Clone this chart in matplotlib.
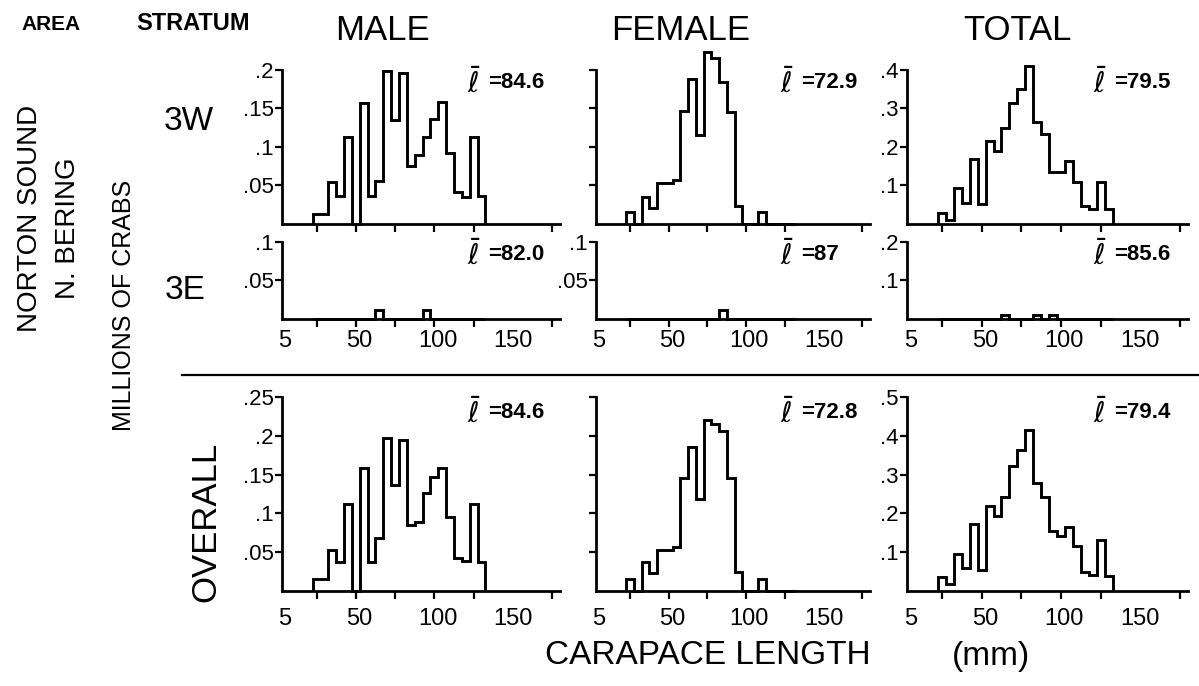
import numpy as np
import matplotlib
matplotlib.use("Agg")
import matplotlib.pyplot as plt
from matplotlib.ticker import FixedLocator, NullFormatter

plt.rcParams['font.family'] = ['Liberation Sans', 'DejaVu Sans']

# ---------------- data (millions of crabs per 5 mm carapace-length bin) ----------------
bin_centers = [25, 30, 35, 40, 45, 50, 55, 60, 65, 70, 75, 80, 85, 90, 95, 100, 105, 110, 115, 120, 125, 130]

male_3w = [0.0135, 0.0135, 0.055, 0.036, 0.1135, 0.0, 0.157, 0.036, 0.056, 0.199, 0.135, 0.196,
           0.075, 0.0895, 0.1135, 0.136, 0.158, 0.092, 0.041, 0.035, 0.1135, 0.036]
female_3w = [0.015, 0.0, 0.035, 0.0205, 0.053, 0.053, 0.057, 0.147, 0.188, 0.116, 0.223, 0.215,
             0.185, 0.146, 0.0235, 0.0, 0.0, 0.015, 0.0, 0.0, 0.0, 0.0]
total_3w = [0.0285, 0.011, 0.093, 0.054, 0.168, 0.052, 0.216, 0.19, 0.249, 0.314, 0.35, 0.41,
            0.266, 0.233, 0.134, 0.134, 0.164, 0.108, 0.0475, 0.039, 0.108, 0.039]

male_3e = [0, 0, 0, 0, 0, 0, 0, 0, 0.012, 0, 0, 0, 0, 0, 0.012, 0, 0, 0, 0, 0, 0, 0]
female_3e = [0, 0, 0, 0, 0, 0, 0, 0, 0, 0, 0, 0, 0.012, 0, 0, 0, 0, 0, 0, 0, 0, 0]
total_3e = [0, 0, 0, 0, 0, 0, 0, 0, 0.011, 0, 0, 0, 0.011, 0, 0.011, 0, 0, 0, 0, 0, 0, 0]

male_all = [0.015, 0.015, 0.053, 0.0375, 0.112, 0.0, 0.158, 0.0375, 0.068, 0.197, 0.137, 0.195,
            0.085, 0.089, 0.126, 0.1465, 0.158, 0.095, 0.043, 0.039, 0.112, 0.0375]
female_all = [0.0155, 0.0, 0.037, 0.0236, 0.053, 0.053, 0.057, 0.145, 0.186, 0.118, 0.221, 0.2146,
              0.206, 0.145, 0.024, 0.0, 0.0, 0.0155, 0.0, 0.0, 0.0, 0.0]
total_all = [0.0365, 0.0174, 0.0957, 0.06, 0.173, 0.054, 0.219, 0.193, 0.2435, 0.322, 0.364, 0.415,
             0.278, 0.241, 0.154, 0.141, 0.164, 0.115, 0.0496, 0.041, 0.132, 0.039]

means = {("3W", "male"): "84.6", ("3W", "female"): "72.9", ("3W", "total"): "79.5",
         ("3E", "male"): "82.0", ("3E", "female"): "87", ("3E", "total"): "85.6",
         ("ALL", "male"): "84.6", ("ALL", "female"): "72.8", ("ALL", "total"): "79.4"}

x_labels = ["5", "50", "100", "150"]
x_label_pos = [5, 52, 102, 150]
x_minor = [25, 50, 75, 100, 125, 150, 175]

# ---------------- layout ----------------
W, H = 1199, 686
fig = plt.figure(figsize=(W / 100, H / 100), dpi=100)

def fx(x):
    return x / W

def fy(y):
    return 1 - y / H

col_lr = {"male": (282, 560), "female": (596, 870), "total": (907, 1188)}
row_tb = {"3W": (70, 224), "3E": (242, 319), "ALL": (397, 591)}

series = {("3W", "male"): male_3w, ("3W", "female"): female_3w, ("3W", "total"): total_3w,
          ("3E", "male"): male_3e, ("3E", "female"): female_3e, ("3E", "total"): total_3e,
          ("ALL", "male"): male_all, ("ALL", "female"): female_all, ("ALL", "total"): total_all}

ylims = {("3W", "male"): 0.2, ("3W", "female"): 0.2, ("3W", "total"): 0.4,
         ("3E", "male"): 0.1, ("3E", "female"): 0.1, ("3E", "total"): 0.2,
         ("ALL", "male"): 0.25, ("ALL", "female"): 0.25, ("ALL", "total"): 0.5}

yticks = {("3W", "male"): ([0.05, 0.1, 0.15, 0.2], [".05", ".1", ".15", ".2"]),
          ("3W", "female"): ([0.05, 0.1, 0.15, 0.2], None),
          ("3W", "total"): ([0.1, 0.2, 0.3, 0.4], [".1", ".2", ".3", ".4"]),
          ("3E", "male"): ([0.05, 0.1], [".05", ".1"]),
          ("3E", "female"): ([0.05, 0.1], [".05", ".1"]),
          ("3E", "total"): ([0.1, 0.2], [".1", ".2"]),
          ("ALL", "male"): ([0.05, 0.1, 0.15, 0.2, 0.25], [".05", ".1", ".15", ".2", ".25"]),
          ("ALL", "female"): ([0.05, 0.1, 0.15, 0.2, 0.25], None),
          ("ALL", "total"): ([0.1, 0.2, 0.3, 0.4, 0.5], [".1", ".2", ".3", ".4", ".5"])}

centers = np.array(bin_centers, dtype=float)
edges = np.concatenate([centers - 2.5, [centers[-1] + 2.5]])

for row in ["3W", "3E", "ALL"]:
    t, b = row_tb[row]
    for col in ["male", "female", "total"]:
        l, r = col_lr[col]
        ax = fig.add_axes([fx(l), fy(b), fx(r - l), (b - t) / H])
        key = (row, col)
        ax.stairs(series[key], edges, baseline=0, color="black", lw=2.1, clip_on=False)
        ax.set_xlim(3, 180)
        ax.set_ylim(0, ylims[key])
        for s in ["top", "right"]:
            ax.spines[s].set_visible(False)
        for s in ["left", "bottom"]:
            ax.spines[s].set_linewidth(2.0)
        ax.xaxis.set_minor_locator(FixedLocator(x_minor))
        ax.xaxis.set_major_locator(FixedLocator(x_label_pos))
        ax.tick_params(axis="x", which="minor", direction="out", length=6, width=1.6)
        pad = 12 if row == "ALL" else 8
        ax.tick_params(axis="x", which="major", length=0, pad=pad, labelsize=17)
        if row == "3W":
            ax.xaxis.set_major_formatter(NullFormatter())
        else:
            ax.set_xticklabels(x_labels)
        tv, tl = yticks[key]
        ax.set_yticks(tv)
        if tl is None:
            ax.set_yticklabels([])
        else:
            ax.set_yticklabels(tl)
        ax.tick_params(axis="y", direction="out", length=5, width=1.6, labelsize=16, pad=1)
        ax.patch.set_alpha(0)
        # mean annotation
        mx = {"male": 467, "female": 780, "total": 1093}[col]
        my = {"3W": 83, "3E": 255, "ALL": 413}[row]
        fig.text(fx(mx), fy(my), r"$\bar{\ell}$", fontsize=20, ha="left", va="center")
        fig.text(fx(mx + 21), fy(my), "=" + means[key], fontsize=16, fontweight="bold",
                 ha="left", va="center")

# separator line
fig.add_artist(plt.Line2D([fx(182), fx(1199)], [fy(375), fy(375)], color="black", lw=1.6))

# headers
fig.text(fx(51), fy(24), "AREA", fontsize=15, fontweight="bold", ha="center", va="center")
fig.text(fx(193), fy(24), "STRATUM", fontsize=17, fontweight="bold", ha="center", va="center")
fig.text(fx(382), fy(31), "MALE", fontsize=25, ha="center", va="center")
fig.text(fx(681), fy(31), "FEMALE", fontsize=25, ha="center", va="center")
fig.text(fx(1018), fy(31), "TOTAL", fontsize=25, ha="center", va="center")

fig.text(fx(30), fy(218), "NORTON SOUND", fontsize=20, rotation=90, ha="center", va="center")
fig.text(fx(68), fy(228), "N. BERING", fontsize=20, rotation=90, ha="center", va="center")
fig.text(fx(124), fy(305), "MILLIONS OF CRABS", fontsize=18, rotation=90, ha="center", va="center")

fig.text(fx(189), fy(122), "3W", fontsize=24, ha="center", va="center")
fig.text(fx(185), fy(290), "3E", fontsize=24, ha="center", va="center")
fig.text(fx(206), fy(522), "OVERALL", fontsize=25, rotation=90, ha="center", va="center")

fig.text(fx(708), fy(656), "CARAPACE LENGTH", fontsize=24, ha="center", va="center")
fig.text(fx(991), fy(656), "(mm)", fontsize=24, ha="center", va="center")

fig.savefig("out.png", dpi=100)
